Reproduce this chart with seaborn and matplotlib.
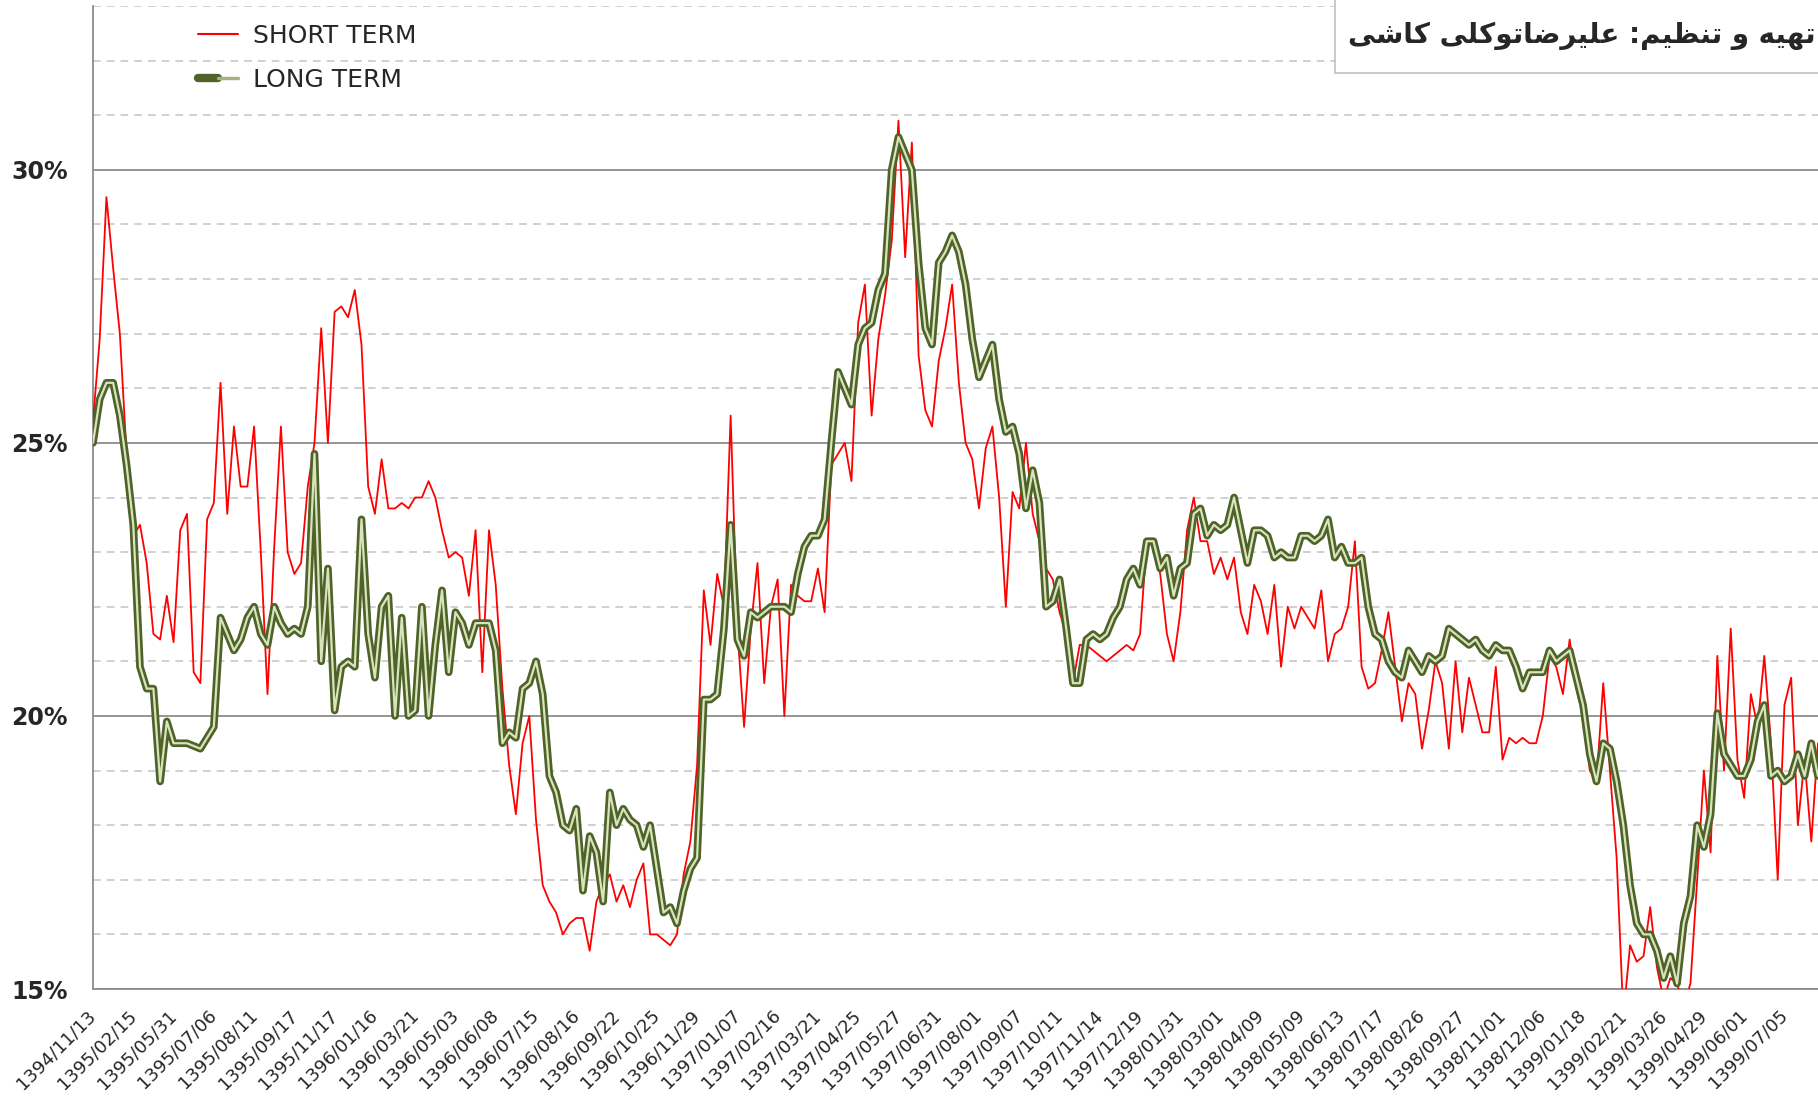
import numpy as np
import pandas as pd
import matplotlib
matplotlib.use("Agg")
import matplotlib.pyplot as plt
from matplotlib.lines import Line2D
from matplotlib.legend_handler import HandlerTuple
from matplotlib.patches import Rectangle
import seaborn as sns

# نرخ بازده (%) - short term / long term
short_term = [
    25.4, 26.9, 29.5, 28.2, 27.0, 24.8, 23.3, 23.5, 22.8, 21.5, 21.4, 22.2,
    21.35, 23.4, 23.7, 20.8, 20.6, 23.6, 23.9, 26.1, 23.7, 25.3, 24.2, 24.2,
    25.3, 23.0, 20.4, 23.1, 25.3, 23.0, 22.6, 22.8, 24.2, 25.0, 27.1, 25.0,
    27.4, 27.5, 27.3, 27.8, 26.8, 24.2, 23.7, 24.7, 23.8, 23.8, 23.9, 23.8,
    24.0, 24.0, 24.3, 24.0, 23.4, 22.9, 23.0, 22.9, 22.2, 23.4, 20.8, 23.4,
    22.4, 20.5, 19.1, 18.2, 19.5, 20.0, 18.1, 16.9, 16.6, 16.4, 16.0, 16.2,
    16.3, 16.3, 15.7, 16.6, 16.9, 17.1, 16.6, 16.9, 16.5, 17.0, 17.3, 16.0,
    16.0, 15.9, 15.8, 16.0, 17.1, 17.7, 19.1, 22.3, 21.3, 22.6, 22.0, 25.5,
    21.6, 19.8, 21.6, 22.8, 20.6, 22.0, 22.5, 20.0, 22.4, 22.2, 22.1, 22.1,
    22.7, 21.9, 24.6, 24.8, 25.0, 24.3, 27.2, 27.9, 25.5, 26.9, 27.7, 28.7,
    30.9, 28.4, 30.5, 26.6, 25.6, 25.3, 26.5, 27.1, 27.9, 26.1, 25.0, 24.7,
    23.8, 24.9, 25.3, 24.0, 22.0, 24.1, 23.8, 25.0, 23.7, 23.2, 22.7, 22.5,
    21.9, 21.5, 20.6, 21.3, 21.3, 21.2, 21.1, 21.0, 21.1, 21.2, 21.3, 21.2,
    21.5, 23.2, 23.1, 22.6, 21.5, 21.0, 21.9, 23.4, 24.0, 23.2, 23.2, 22.6,
    22.9, 22.5, 22.9, 21.9, 21.5, 22.4, 22.1, 21.5, 22.4, 20.9, 22.0, 21.6,
    22.0, 21.8, 21.6, 22.3, 21.0, 21.5, 21.6, 22.0, 23.2, 20.9, 20.5, 20.6,
    21.2, 21.9, 20.9, 19.9, 20.6, 20.4, 19.4, 20.1, 21.0, 20.6, 19.4, 21.0,
    19.7, 20.7, 20.2, 19.7, 19.7, 20.9, 19.2, 19.6, 19.5, 19.6, 19.5, 19.5,
    20.0, 21.1, 20.9, 20.4, 21.4, 20.5, 20.0, 19.0, 18.8, 20.6, 19.0, 17.4,
    14.5, 15.8, 15.5, 15.6, 16.5, 15.4, 14.8, 15.2, 15.1, 14.7, 15.1, 17.0,
    19.0, 17.5, 21.1, 19.0, 21.6, 19.2, 18.5, 20.4, 19.8, 21.1, 19.5, 17.0,
    20.2, 20.7, 18.0, 19.2, 17.7, 19.5,
]

long_term = [
    25.0, 25.8, 26.1, 26.1, 25.5, 24.6, 23.5, 20.9, 20.5, 20.5, 18.8, 19.9,
    19.5, 19.5, 19.5, 19.45, 19.4, 19.6, 19.8, 21.8, 21.5, 21.2, 21.4, 21.8,
    22.0, 21.5, 21.3, 22.0, 21.7, 21.5, 21.6, 21.5, 22.0, 24.8, 21.0, 22.7,
    20.1, 20.9, 21.0, 20.9, 23.6, 21.5, 20.7, 22.0, 22.2, 20.0, 21.8, 20.0,
    20.1, 22.0, 20.0, 21.3, 22.3, 20.8, 21.9, 21.7, 21.3, 21.7, 21.7, 21.7,
    21.2, 19.5, 19.7, 19.6, 20.5, 20.6, 21.0, 20.4, 18.9, 18.6, 18.0, 17.9,
    18.3, 16.8, 17.8, 17.5, 16.6, 18.6, 18.0, 18.3, 18.1, 18.0, 17.6, 18.0,
    17.2, 16.4, 16.5, 16.2, 16.8, 17.2, 17.4, 20.3, 20.3, 20.4, 21.6, 23.5,
    21.4, 21.1, 21.9, 21.8, 21.9, 22.0, 22.0, 22.0, 21.9, 22.6, 23.1, 23.3,
    23.3, 23.6, 25.0, 26.3, 26.0, 25.7, 26.8, 27.1, 27.2, 27.8, 28.1, 30.0,
    30.6, 30.3, 30.0, 28.3, 27.1, 26.8, 28.3, 28.5, 28.8, 28.5, 27.9, 26.9,
    26.2, 26.5, 26.8, 25.8, 25.2, 25.3, 24.8, 23.8, 24.5, 23.9, 22.0, 22.1,
    22.5, 21.6, 20.6, 20.6, 21.4, 21.5, 21.4, 21.5, 21.8, 22.0, 22.5, 22.7,
    22.4, 23.2, 23.2, 22.7, 22.9, 22.2, 22.7, 22.8, 23.7, 23.8, 23.3, 23.5,
    23.4, 23.5, 24.0, 23.4, 22.8, 23.4, 23.4, 23.3, 22.9, 23.0, 22.9, 22.9,
    23.3, 23.3, 23.2, 23.3, 23.6, 22.9, 23.1, 22.8, 22.8, 22.9, 22.0, 21.5,
    21.4, 21.0, 20.8, 20.7, 21.2, 21.0, 20.8, 21.1, 21.0, 21.1, 21.6, 21.5,
    21.4, 21.3, 21.4, 21.2, 21.1, 21.3, 21.2, 21.2, 20.9, 20.5, 20.8, 20.8,
    20.8, 21.2, 21.0, 21.1, 21.2, 20.7, 20.2, 19.3, 18.8, 19.5, 19.4, 18.8,
    18.0, 16.9, 16.2, 16.0, 16.0, 15.7, 15.2, 15.6, 15.1, 16.2, 16.7, 18.0,
    17.6, 18.2, 20.05, 19.3, 19.1, 18.9, 18.9, 19.2, 19.9, 20.2, 18.9, 19.0,
    18.8, 18.9, 19.3, 18.9, 19.5, 18.9,
]

tick_labels = [
    "1394/11/13", "1395/02/15", "1395/05/31", "1395/07/06", "1395/08/11",
    "1395/09/17", "1395/11/17", "1396/01/16", "1396/03/21", "1396/05/03",
    "1396/06/08", "1396/07/15", "1396/08/16", "1396/09/22", "1396/10/25",
    "1396/11/29", "1397/01/07", "1397/02/16", "1397/03/21", "1397/04/25",
    "1397/05/27", "1397/06/31", "1397/08/01", "1397/09/07", "1397/10/11",
    "1397/11/14", "1397/12/19", "1398/01/31", "1398/03/01", "1398/04/09",
    "1398/05/09", "1398/06/13", "1398/07/17", "1398/08/26", "1398/09/27",
    "1398/11/01", "1398/12/06", "1399/01/18", "1399/02/21", "1399/03/26",
    "1399/04/29", "1399/06/01", "1399/07/05",
]
tick_step = 6  # one date label every 6 points

y_major = [15, 20, 25, 30]
y_labels = ["15%", "20%", "25%", "30%"]

# "تهیه و تنظیم: علیرضاتوکلی کاشی" - matplotlib has no arabic shaping,
# so the words are written with presentation forms in visual order
credit = ("\uFEF0\uFEB7\uFE8E\uFEDB" + " "
          + "\uFEF0\uFEE0\uFEDB\uFEEE\uFE97\uFE8E\uFEBF\uFEAE\uFEF4\uFEE0\uFECB"
          + " :" + "\uFEE2\uFEF4\uFEC8\uFEE8\uFE97"
          + " " + "\uFEED" + " " + "\uFEEA\uFEF4\uFEEC\uFE97")

sns.set_style("white")
plt.rcParams['font.family'] = ['DejaVu Sans']

df = pd.DataFrame({
    'pos': np.arange(len(short_term)),
    'short': short_term,
    'long': long_term,
})

W, H = 1818, 1101
fig = plt.figure(figsize=(W / 100, H / 100), dpi=100)
ax = fig.add_axes([93 / W, 1 - 989 / H, 1 - 93 / W, (989 - 6) / H])

dark_olive = '#4f6228'
light_olive = '#d7e4bd'

# short term (red, thin) drawn first, long term (double line) on top
sns.lineplot(data=df, x='pos', y='short', color='#ff0000', linewidth=1.3,
             estimator=None, ax=ax, zorder=3)
sns.lineplot(data=df, x='pos', y='long', color=dark_olive, linewidth=5.5,
             estimator=None, ax=ax, zorder=4, solid_joinstyle='round')
sns.lineplot(data=df, x='pos', y='long', color=light_olive, linewidth=1.6,
             estimator=None, ax=ax, zorder=5, solid_joinstyle='round')

ax.set_xlim(0, len(short_term) - 1)
ax.set_ylim(15, 33)
ax.set_xlabel('')
ax.set_ylabel('')

# grid: solid every 5%, dashed every 1%
ax.set_yticks(y_major)
ax.set_yticklabels(y_labels, fontsize=17, fontweight='bold')
ax.set_yticks(range(16, 34), minor=True)
ax.set_axisbelow(True)
ax.yaxis.grid(True, which='major', color='#8c8c8c', linewidth=1.3, linestyle='-')
ax.yaxis.grid(True, which='minor', color='#c3c3c3', linewidth=1.1, linestyle=(0, (5, 4)))
ax.xaxis.grid(False)
ax.tick_params(axis='y', which='minor', length=0)
ax.tick_params(axis='y', which='major', length=10, width=1.3, color='#8c8c8c', pad=8)

ax.set_xticks(range(0, len(tick_labels) * tick_step, tick_step))
ax.set_xticklabels(tick_labels, rotation=45, ha='right', va='center',
                   rotation_mode='anchor', fontsize=13)
ax.tick_params(axis='x', length=9, width=1.3, color='#8c8c8c', pad=8)

for side in ['top', 'right']:
    ax.spines[side].set_visible(False)
for side in ['left', 'bottom']:
    ax.spines[side].set_color('#8c8c8c')
    ax.spines[side].set_linewidth(1.3)

# legend
h_short = Line2D([], [], color='#ff0000', linewidth=1.5)
h_long = (Line2D([], [], color=dark_olive, linewidth=6, solid_capstyle='round'),
          Line2D([], [], color='#a3b384', linewidth=2.5, solid_capstyle='round'))
ax.legend([h_short, h_long], ['SHORT TERM', 'LONG TERM'],
          handler_map={tuple: HandlerTuple(ndivide=None, pad=0)},
          loc='upper left', bbox_to_anchor=(198 / W, 1 - 24 / H),
          bbox_transform=fig.transFigure, frameon=False, fontsize=18,
          handlelength=1.6, handletextpad=0.6, labelspacing=0.8,
          borderpad=0, borderaxespad=0)

# credit box top right
fig.add_artist(Rectangle((1335 / W, 1 - 73 / H), 1 - 1335 / W + 0.01, 73 / H + 0.01,
                         transform=fig.transFigure, facecolor='white',
                         edgecolor='#c0c0c0', linewidth=1.2, zorder=10))
fig.text(1815 / W, 1 - 36 / H, credit, ha='right', va='center', fontsize=20,
         fontweight='bold', family=['DejaVu Sans'], zorder=11)

fig.savefig('out.png', dpi=100)
